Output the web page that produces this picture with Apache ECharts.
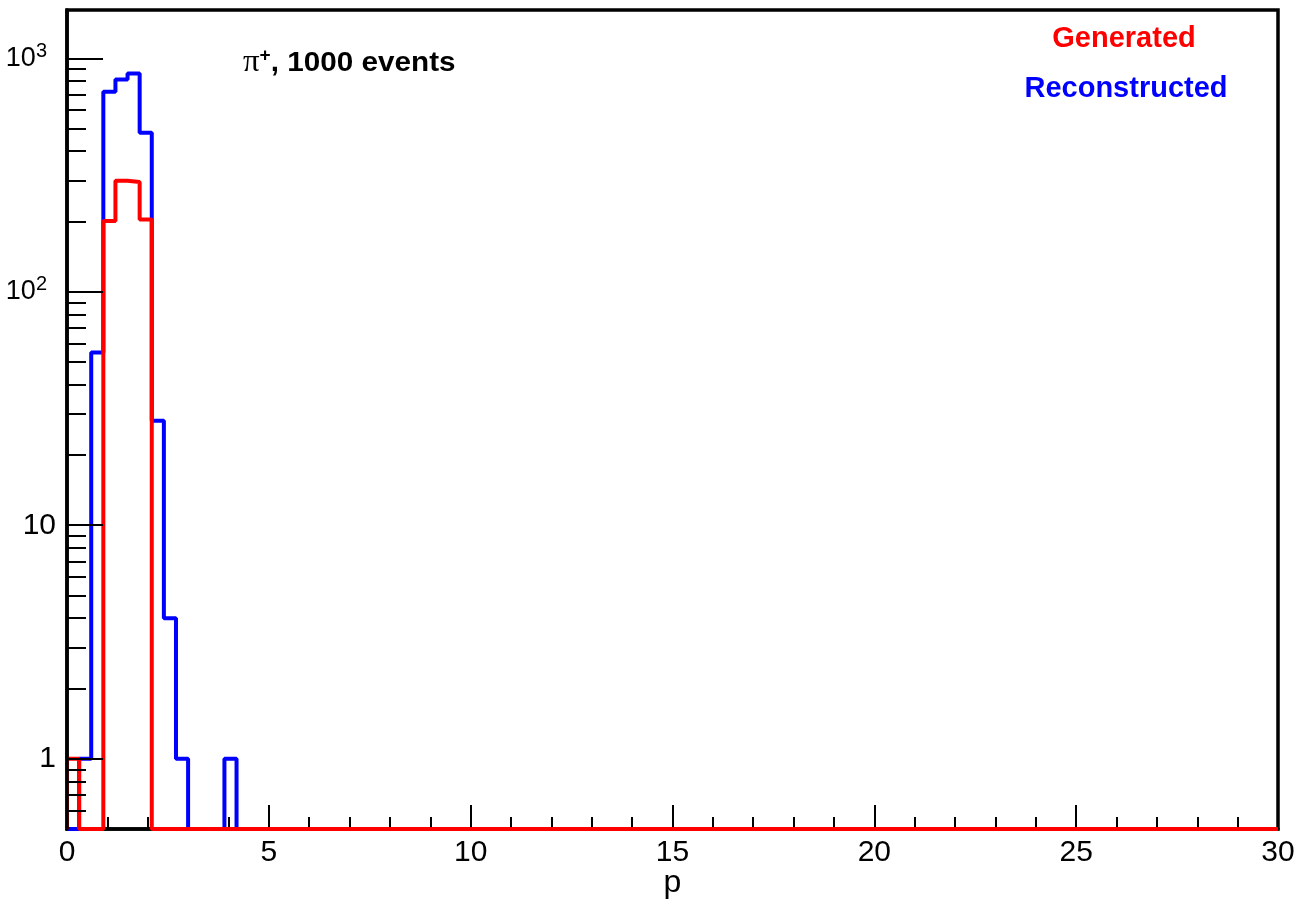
<!DOCTYPE html>
<html>
<head>
<meta charset="utf-8">
<script src="https://cdn.jsdelivr.net/npm/echarts@6/dist/echarts.min.js"></script>
<style>
html,body{margin:0;padding:0;background:#fff;}
#chart{width:1298px;height:906px;}
</style>
</head>
<body>
<div id="chart"></div>
<script>
// Histogram definition: 100 bins of width 0.3 on [0, 30]; bins not listed are empty
const xMin = 0;
const xMax = 30;
const binWidth = 0.3;
// counts of the first 15 bins (0.0-0.3, 0.3-0.6, ... 4.2-4.5)
const generatedCounts     = [1, 0, 0, 201, 299, 295, 204, 0, 0, 0, 0, 0, 0, 0, 0];
const reconstructedCounts = [0, 1, 55, 719, 812, 861, 480, 28, 4, 1, 0, 0, 0, 1, 0];
const yMin = 0.5;
const yMax = 1610;
const yMajorTicks = [1, 10, 100, 1000];
const yMinorTicks = [0.6, 0.7, 0.8, 0.9, 2, 3, 4, 5, 6, 7, 8, 9, 20, 30, 40, 50, 60, 70, 80, 90, 200, 300, 400, 500, 600, 700, 800, 900];
const seriesNames = ['Reconstructed', 'Generated'];
const seriesColors = ['#0000ff', '#ff0000'];

function histPoints(counts) {
  // empty bins are drawn on the bottom of the log frame, as ROOT does
  const pts = [[xMin, yMin]];
  counts.forEach((c, i) => {
    pts.push([+(xMin + i * binWidth).toFixed(4), Math.max(c, yMin)]);
  });
  pts.push([xMax, yMin]);
  return pts;
}

const FONT = "'Liberation Sans', Arial, Helvetica, sans-serif";
const chart = echarts.init(document.getElementById('chart'), null, {renderer: 'canvas'});

chart.setOption({
  animation: false,
  backgroundColor: '#ffffff',
  grid: {
    left: 67, right: 20, top: 10, bottom: 77,
    outerBoundsMode: 'none', containLabel: false,
    show: true, borderColor: '#000', borderWidth: 3.5, backgroundColor: 'transparent'
  },
  xAxis: {
    type: 'value', min: xMin, max: xMax, interval: 5,
    name: 'p', nameLocation: 'middle', nameGap: 38, nameMoveOverlap: false,
    nameTextStyle: {fontFamily: FONT, fontSize: 32, color: '#000', verticalAlign: 'top'},
    axisLine: {show: true, lineStyle: {color: '#000', width: 3.5}},
    axisTick: {show: true, inside: true, length: 24, lineStyle: {color: '#000', width: 2}},
    minorTick: {show: true, splitNumber: 5, length: 12, lineStyle: {color: '#000', width: 2}},
    splitLine: {show: false},
    axisLabel: {fontFamily: FONT, fontSize: 30, color: '#000', margin: 9}
  },
  yAxis: [
    {
      type: 'log', logBase: 10, min: yMin, max: yMax, position: 'left', z: 5,
      axisLine: {show: true, lineStyle: {color: '#000', width: 3.5}},
      axisTick: {show: true, inside: true, length: 36, customValues: yMajorTicks, lineStyle: {color: '#000', width: 2}},
      splitLine: {show: false},
      axisLabel: {
        customValues: yMajorTicks, margin: 11, color: '#000',
        fontFamily: FONT, fontSize: 30,
        formatter: function (v) {
          const e = Math.round(Math.log10(v));
          if (e >= 2) return '{e|10}{s|' + e + '}';
          return '{b|' + Math.round(v) + '}';
        },
        rich: {
          b: {fontFamily: FONT, fontSize: 30, color: '#000', lineHeight: 34},
          e: {fontFamily: FONT, fontSize: 27, color: '#000', lineHeight: 34},
          s: {fontFamily: FONT, fontSize: 20, color: '#000', verticalAlign: 'top', lineHeight: 34, padding: [0, 9, 16, 0]}
        }
      }
    },
    {
      type: 'log', logBase: 10, min: yMin, max: yMax, position: 'left', z: 5,
      axisLine: {show: false},
      axisTick: {show: true, inside: true, length: 19, customValues: yMinorTicks, lineStyle: {color: '#000', width: 2}},
      splitLine: {show: false},
      axisLabel: {show: false}
    }
  ],
  series: [
    {
      name: seriesNames[0], type: 'line', step: 'end', yAxisIndex: 0,
      data: histPoints(reconstructedCounts), showSymbol: false, symbol: 'none',
      lineStyle: {color: seriesColors[0], width: 4}, itemStyle: {color: seriesColors[0]}
    },
    {
      name: seriesNames[1], type: 'line', step: 'end', yAxisIndex: 0,
      data: histPoints(generatedCounts), showSymbol: false, symbol: 'none',
      lineStyle: {color: seriesColors[1], width: 4}, itemStyle: {color: seriesColors[1]}
    }
  ],
  graphic: [
    {
      type: 'text', x: 243, y: 63, z: 10, scaleX: 1.06,
      style: {
        text: '{pi|π}{sup|+}{t|, 1000 events}',
        align: 'left', verticalAlign: 'middle', textAlign: 'left', textVerticalAlign: 'middle',
        rich: {
          pi: {fontFamily: "'Liberation Serif', 'DejaVu Serif', serif", fontSize: 31, fill: '#000', lineHeight: 32},
          sup: {fontFamily: FONT, fontWeight: 'bold', fontSize: 18, fill: '#000', verticalAlign: 'top', lineHeight: 32},
          t: {fontFamily: FONT, fontWeight: 'bold', fontSize: 28, fill: '#000', lineHeight: 32}
        }
      }
    },
    {
      type: 'text', x: 1124, y: 39, z: 10,
      style: {
        text: seriesNames[1], fill: seriesColors[1],
        fontFamily: FONT, fontWeight: 'bold', fontSize: 29,
        align: 'center', verticalAlign: 'middle', textAlign: 'center', textVerticalAlign: 'middle'
      }
    },
    {
      type: 'text', x: 1126, y: 89, z: 10,
      style: {
        text: seriesNames[0], fill: seriesColors[0],
        fontFamily: FONT, fontWeight: 'bold', fontSize: 29,
        align: 'center', verticalAlign: 'middle', textAlign: 'center', textVerticalAlign: 'middle'
      }
    }
  ]
});
</script>
</body>
</html>
